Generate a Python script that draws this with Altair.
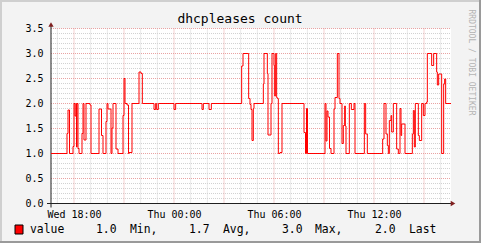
import altair as alt
import pandas as pd

# ---- data (hours since Wed 00:00, value) : step series ----
hours = [16.62, 17.58, 17.64, 17.73, 17.94, 18.00, 18.06, 18.12, 18.15, 18.18, 18.24, 18.30,
         18.48, 18.54, 18.60, 18.72, 18.96, 19.02, 19.50, 19.65, 19.74, 19.92, 19.98, 20.04,
         20.22, 20.28, 20.34, 20.52, 20.64, 20.94, 21.00, 21.06, 21.18, 21.27, 21.30, 21.48,
         21.90, 22.02, 22.10, 22.80, 22.90, 22.96, 23.06, 24.00, 24.10, 25.68, 25.76, 26.10,
         26.24, 28.06, 28.14, 28.48, 28.56, 28.62, 28.68, 28.76, 28.80, 29.36, 29.40, 29.60,
         29.64, 29.82, 29.88, 30.00, 30.04, 30.10, 30.16, 30.20, 30.26, 30.36, 30.48, 31.80,
         31.89, 31.95, 32.01, 33.06, 33.12, 33.18, 33.24, 33.33, 33.42, 33.60, 33.66, 33.80,
         33.90, 33.96, 34.08, 34.16, 34.24, 34.28, 34.32, 34.52, 34.64, 34.80, 34.86, 35.42,
         35.50, 35.60, 36.52, 36.60, 36.72, 36.80, 36.86, 36.92, 37.02, 37.06, 37.16, 37.36,
         37.46, 37.56, 37.62, 37.66, 37.86, 38.30, 38.36, 38.42, 38.48, 38.66, 38.72, 38.86,
         38.96, 39.06, 39.16, 39.20, 39.46, 39.58, 39.76, 39.80, 39.88, 40.06, 40.18, 40.24,
         40.30, 40.62]
values = [1.0, 1.4, 1.87, 1.0, 1.14, 2.0, 1.75, 2.0, 1.13, 2.0, 1.1, 1.0,
          1.4, 2.0, 1.27, 2.0, 1.97, 1.0, 1.89, 1.36, 1.0, 1.64, 2.0, 1.89,
          1.0, 1.51, 2.0, 1.09, 1.0, 1.76, 2.5, 2.0, 1.97, 1.0, 1.02, 2.0,
          2.63, 2.6, 2.0, 1.88, 2.0, 1.88, 2.0, 1.88, 2.0, 1.88, 2.0, 1.88,
          2.0, 2.75, 3.0, 2.1, 1.98, 1.88, 1.26, 1.9, 2.0, 2.39, 3.0, 2.6,
          1.37, 2.0, 3.0, 2.76, 2.15, 3.0, 2.12, 2.1, 1.0, 1.02, 2.0, 1.42,
          1.0, 1.9, 1.0, 2.0, 1.25, 1.85, 1.73, 1.1, 1.0, 1.89, 2.12, 3.0,
          2.1, 2.0, 1.2, 1.56, 1.95, 1.55, 1.0, 2.0, 1.88, 2.0, 1.0, 2.0,
          1.39, 1.0, 1.29, 2.0, 1.39, 1.16, 1.0, 1.66, 1.76, 1.43, 2.0, 1.09,
          1.0, 1.9, 1.36, 1.59, 1.0, 1.39, 1.86, 1.13, 2.0, 1.36, 1.26, 2.0,
          1.76, 2.0, 2.03, 3.0, 2.76, 3.0, 2.63, 2.37, 2.59, 1.0, 2.39, 2.49,
          2.0, 2.0]

title_text = "dhcpleases count"
watermark = "RRDTOOL / TOBI OETIKER"
legend_labels = ["value", "1.0", "Min,", "1.7", "Avg,", "3.0", "Max,", "2.0", "Last"]
legend_x = [-21, 45, 79, 138, 172, 231, 264, 324, 358]

x_domain = [16.62, 40.62]
y_domain = [0, 3.5]
y_ticks = [0.0, 0.5, 1.0, 1.5, 2.0, 2.5, 3.0, 3.5]
x_label_hours = [18, 24, 30, 36]
y_minor = [i / 10 for i in range(1, 35) if i % 5]
y_major = [0.5, 1.0, 1.5, 2.0, 2.5, 3.0, 3.5]
x_minor = [h for h in range(17, 41) if h % 3]
x_major = [18, 21, 24, 27, 30, 33, 36, 39]

FONT = "DejaVu Sans Mono"
W, H = 400, 175

xs = alt.Scale(domain=x_domain, nice=False, zero=False)
ys = alt.Scale(domain=y_domain, nice=False, zero=False)

label_expr = ("(datum.value < 24 ? 'Wed ' : 'Thu ') + "
              "(datum.value % 24 < 10 ? '0' : '') + (datum.value % 24) + ':00'")
x_axis = alt.Axis(
    values=x_label_hours, labelExpr=label_expr, title=None, grid=False, ticks=False,
    domain=False, labelFont=FONT, labelFontSize=10, labelColor="#000000",
    labelPadding=6, labelFlush=False)
y_axis = alt.Axis(
    values=y_ticks, format=".1f", title=None, grid=False, ticks=False, domain=False,
    labelFont=FONT, labelFontSize=10, labelColor="#000000", labelPadding=8)

df = pd.DataFrame({"h": hours, "v": values})


def hgrid(vals, color):
    return alt.Chart(pd.DataFrame({"v": vals})).mark_rule(
        color=color, strokeDash=[1, 1], strokeWidth=1).encode(
        y=alt.Y("v:Q", scale=ys, axis=y_axis), x=alt.value(0), x2=alt.value(W))


def vgrid(vals, color):
    return alt.Chart(pd.DataFrame({"h": vals})).mark_rule(
        color=color, strokeDash=[1, 1], strokeWidth=1).encode(
        x=alt.X("h:Q", scale=xs, axis=x_axis), y=alt.value(0), y2=alt.value(H))


GRID = "#D2D2D2"
MGRID = "#E9A3A3"

layers = [
    hgrid(y_minor, GRID),
    vgrid(x_minor, GRID),
    hgrid(y_major, MGRID),
    vgrid(x_major, MGRID),
]

line = alt.Chart(df).mark_line(interpolate="step-after", color="#FF0000", strokeWidth=1).encode(
    x=alt.X("h:Q", scale=xs, axis=x_axis),
    y=alt.Y("v:Q", scale=ys, axis=y_axis),
)

one = pd.DataFrame({"a": [0]})
AXIS = "#202020"
ARROW = "#7F1F1F"

yaxis = alt.Chart(one).mark_rule(color=AXIS, strokeWidth=1).encode(
    x=alt.value(0), y=alt.value(-3), y2=alt.value(H + 4))
xaxis = alt.Chart(one).mark_rule(color=AXIS, strokeWidth=1).encode(
    x=alt.value(-4), x2=alt.value(W + 1), y=alt.value(H), y2=alt.value(H))
yarrow = alt.Chart(one).mark_point(shape="triangle-up", filled=True, color=ARROW, size=28, opacity=1).encode(
    x=alt.value(0), y=alt.value(-4))
xarrow = alt.Chart(one).mark_point(shape="triangle-right", filled=True, color=ARROW, size=28, opacity=1).encode(
    x=alt.value(W + 2), y=alt.value(H))

title = alt.Chart(one).mark_text(font=FONT, fontSize=13, color="#000000", align="center",
                                 baseline="alphabetic").encode(
    x=alt.value(189), y=alt.value(-6), text=alt.value(title_text))

wm = alt.Chart(one).mark_text(font=FONT, fontSize=8, color="#B4B4B4", align="center",
                              baseline="middle", angle=90).encode(
    x=alt.value(420), y=alt.value(34), text=alt.value(watermark))

leg_df = pd.DataFrame({"t": legend_labels, "x": legend_x})
legend_text = alt.Chart(leg_df).mark_text(font=FONT, fontSize=11.4, color="#000000", align="left",
                                          baseline="middle").encode(
    x=alt.X("x:Q", scale=None), y=alt.value(201), text="t:N")
swatch = alt.Chart(one).mark_rect(color="#FF0000", stroke="#000000", strokeWidth=1).encode(
    x=alt.value(-36), x2=alt.value(-28), y=alt.value(196.5), y2=alt.value(205.5))

# outer frame (shade)
frame_l = alt.Chart(one).mark_rect(color="#CFCFCF").encode(
    x=alt.value(-51), x2=alt.value(-49), y=alt.value(-28.5), y2=alt.value(215))
frame_t = alt.Chart(one).mark_rect(color="#CFCFCF").encode(
    x=alt.value(-51), x2=alt.value(430), y=alt.value(-28.5), y2=alt.value(-26.5))
frame_r = alt.Chart(one).mark_rect(color="#9A9A9A").encode(
    x=alt.value(428), x2=alt.value(430), y=alt.value(-28.5), y2=alt.value(215))
frame_b = alt.Chart(one).mark_rect(color="#9A9A9A").encode(
    x=alt.value(-51), x2=alt.value(430), y=alt.value(212.5), y2=alt.value(214.5))

chart = alt.layer(
    *layers, yaxis, xaxis, line, yarrow, xarrow, title, wm, legend_text, swatch,
    frame_l, frame_t, frame_r, frame_b
).properties(
    width=W, height=H,
    padding={"left": 51, "top": 28.5, "right": 30, "bottom": 39.5},
    autosize=alt.AutoSizeParams(type="none"),
    background="#F3F3F3",
).configure_view(fill="#FFFFFF", stroke=None)

chart.save("out.html", embed_options={"renderer": "svg", "actions": False})
